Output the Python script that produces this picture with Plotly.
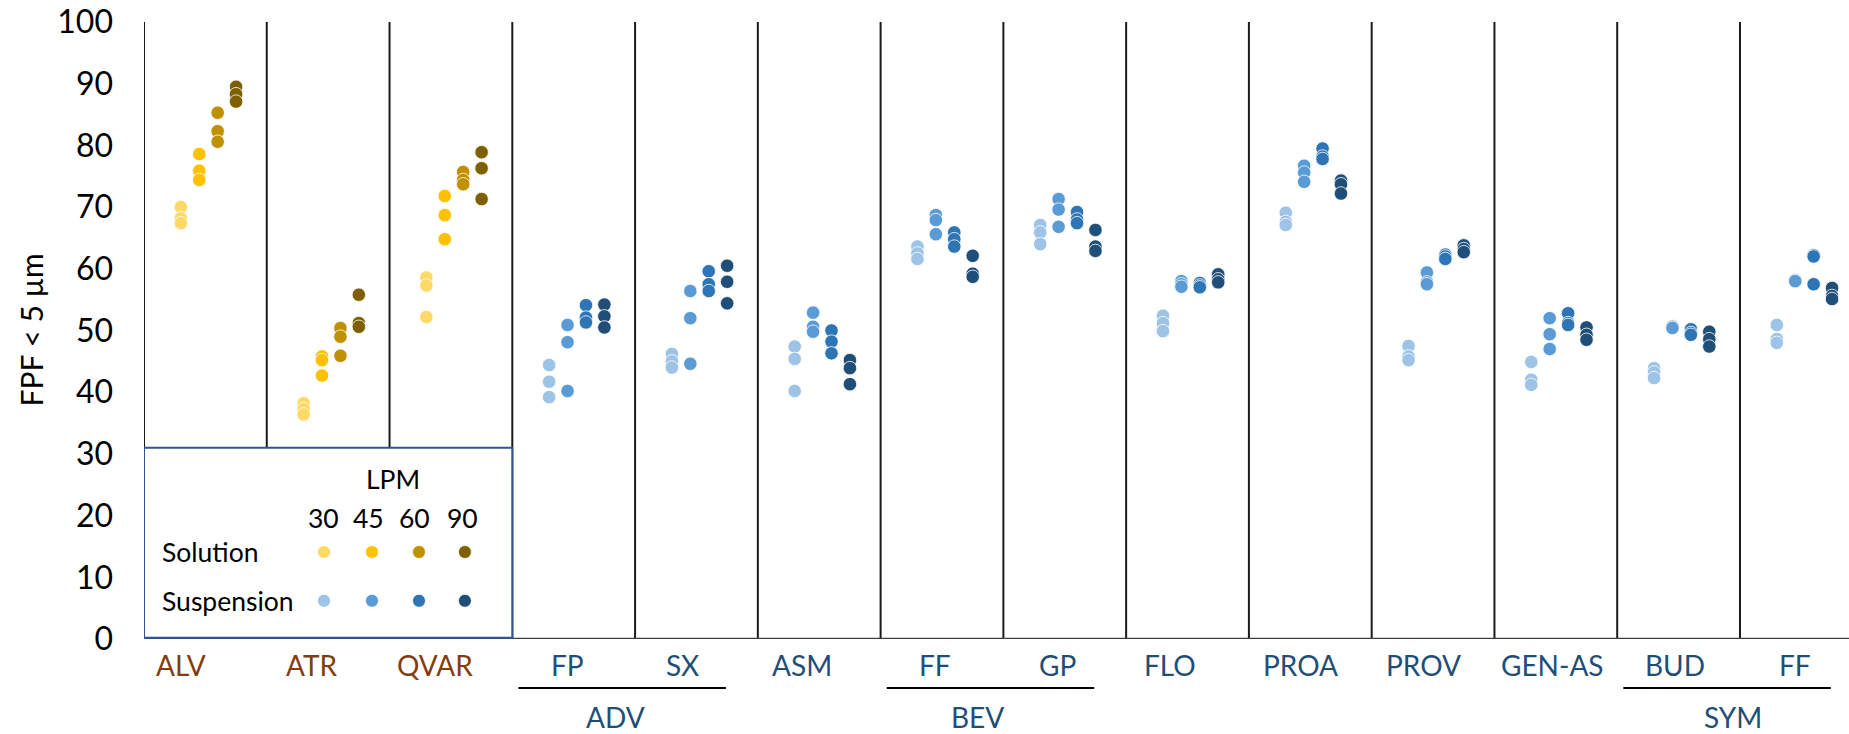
import plotly.graph_objects as go

# ---------------- data ----------------
categories = ["ALV", "ATR", "QVAR", "FP", "SX", "ASM", "FF", "GP", "FLO",
              "PROA", "PROV", "GEN-AS", "BUD", "FF"]
formulation = ["Solution"] * 3 + ["Suspension"] * 11
lpm = [30, 45, 60, 90]

fpf_30 = [
    [70.0, 68.2, 67.4], [38.2, 37.3, 36.4], [58.6, 57.3, 52.2], [44.4, 41.7, 39.2],
    [46.2, 45.0, 44.0], [47.4, 45.4, 40.2], [63.6, 62.5, 61.6], [67.1, 65.9, 64.0],
    [52.4, 51.2, 49.9], [69.1, 67.6, 67.1], [47.5, 45.8, 45.2], [44.9, 42.0, 41.2],
    [43.9, 43.2, 42.3], [50.9, 48.6, 48.0],
]
fpf_45 = [
    [78.6, 75.9, 74.4], [45.8, 45.2, 42.7], [71.8, 68.7, 64.8], [50.9, 48.1, 40.2],
    [56.4, 52.0, 44.6], [52.9, 50.6, 49.8], [68.7, 67.9, 65.6], [71.3, 69.6, 66.8],
    [58.0, 57.5, 57.1], [76.7, 75.6, 74.1], [59.4, 57.8, 57.5], [52.0, 49.4, 47.0],
    [50.7, 50.6, 50.4], [58.2, 58.1, 58.0],
]
fpf_60 = [
    [85.3, 82.3, 80.6], [50.4, 49.0, 45.9], [75.7, 74.4, 73.7], [54.1, 52.1, 51.3],
    [59.6, 57.5, 56.4], [50.0, 48.2, 46.3], [65.9, 64.8, 63.6], [69.2, 68.0, 67.4],
    [57.7, 57.3, 57.0], [79.5, 78.2, 77.8], [62.3, 62.0, 61.6], [52.8, 51.2, 50.9],
    [50.2, 49.6, 49.3], [62.2, 62.0, 57.5],
]
fpf_90 = [
    [89.5, 88.3, 87.1], [55.8, 51.2, 50.6], [78.9, 76.3, 71.3], [54.2, 52.3, 50.5],
    [60.5, 57.9, 54.4], [45.2, 43.9, 41.3], [62.1, 59.2, 58.7], [66.3, 63.6, 62.9],
    [59.1, 58.3, 57.8], [74.3, 73.7, 72.2], [63.8, 63.2, 62.7], [50.5, 49.3, 48.5],
    [49.8, 48.6, 47.4], [56.9, 55.6, 55.1],
]
series = [fpf_30, fpf_45, fpf_60, fpf_90]

groups = [("ADV", 3, 4), ("BEV", 6, 7), ("SYM", 12, 13)]
y_ticks = list(range(0, 101, 10))

# ---------------- styling ----------------
colors = {
    "Solution": ["#FFD966", "#FFC000", "#BF9000", "#7F6000"],
    "Suspension": ["#9DC3E6", "#5B9BD5", "#2E75B6", "#1F4E79"],
}
label_color = {"Solution": "#843C0C", "Suspension": "#1F4E79"}
lpm_offset = [0.30, 0.45, 0.60, 0.75]
label_offset = [0.30, 0.37, 0.37, 0.45, 0.39, 0.36, 0.44, 0.44, 0.36, 0.42,
                0.42, 0.47, 0.47, 0.45]
group_label_x = {"ADV": 3.84, "BEV": 6.79, "SYM": 12.94}
FONT = "Lato"
XMAX = 13.888

fig = go.Figure()

for form in ["Solution", "Suspension"]:
    for k, vals in enumerate(series):
        xs, ys = [], []
        for i, reps in enumerate(vals):
            if formulation[i] != form:
                continue
            for v in reps:
                xs.append(i + lpm_offset[k])
                ys.append(v)
        fig.add_trace(go.Scatter(
            x=xs, y=ys, mode="markers", name=f"{form} {lpm[k]}",
            marker=dict(size=13.5, color=colors[form][k],
                        line=dict(color="white", width=0.8)),
            showlegend=False, hoverinfo="y"))

shapes = []
# vertical dividers
for i in range(len(categories)):
    shapes.append(dict(type="line", xref="x", yref="y", x0=i, x1=i, y0=0, y1=100,
                       line=dict(color="#1a1a1a", width=2), layer="below"))
# x axis line
shapes.append(dict(type="line", xref="x", yref="y", x0=0, x1=XMAX, y0=0, y1=0,
                   line=dict(color="#404040", width=2.5)))
# legend box
shapes.append(dict(type="rect", xref="x", yref="y", x0=0, x1=3, y0=0.2, y1=31,
                   line=dict(color="#2F5597", width=2), fillcolor="white"))
# group brackets
for name, a, b in groups:
    shapes.append(dict(type="line", xref="x", yref="paper", x0=a + 0.05, x1=a + 1.74,
                       y0=-0.0794, y1=-0.0794, line=dict(color="black", width=2)))

annotations = []
# legend contents
leg_num_x = [1.466, 1.825, 2.207, 2.598]
leg_dot_x = [1.466, 1.857, 2.240, 2.614]
leg_rows = [("Solution", 14.1), ("Suspension", 6.2)]
LEGFONT = dict(family=FONT, size=26.5, color="black")
annotations.append(dict(x=2.03, y=25.9, xref="x", yref="y", text="LPM", showarrow=False,
                        font=LEGFONT))
for j, n in enumerate(lpm):
    annotations.append(dict(x=leg_num_x[j], y=19.6, xref="x", yref="y", text=str(n),
                            showarrow=False, font=LEGFONT))
for form, yy in leg_rows:
    annotations.append(dict(x=0.13, y=yy, xref="x", yref="y", text=form, xanchor="left",
                            showarrow=False, font=LEGFONT))
    for j in range(4):
        shapes.append(dict(type="circle", xref="x", yref="y", xsizemode="pixel",
                           ysizemode="pixel", xanchor=leg_dot_x[j], yanchor=yy,
                           x0=-6.5, x1=6.5, y0=-6.5, y1=6.5,
                           fillcolor=colors[form][j], line=dict(color="white", width=0.8)))

# category labels
for i, c in enumerate(categories):
    annotations.append(dict(x=i + label_offset[i], y=0, xref="x", yref="paper",
                            xanchor="center", yanchor="middle", yshift=-26, text=c,
                            showarrow=False,
                            font=dict(family=FONT, size=28, color=label_color[formulation[i]])))
# group labels
for name, a, b in groups:
    annotations.append(dict(x=group_label_x[name], y=0, xref="x", yref="paper",
                            xanchor="center", yanchor="middle", yshift=-78, text=name,
                            showarrow=False,
                            font=dict(family=FONT, size=28, color="#1F4E79")))
# y-axis title
annotations.append(dict(x=0, y=0.5, xref="paper", yref="paper", xshift=-114,
                        xanchor="center", yanchor="middle",
                        text="FPF < 5 µm", textangle=-90, showarrow=False,
                        font=dict(family=FONT, size=30, color="black")))

fig.update_layout(
    width=1849, height=734,
    margin=dict(l=144, r=0, t=22, b=95),
    paper_bgcolor="white", plot_bgcolor="white",
    xaxis=dict(range=[0, XMAX], showticklabels=False, showgrid=False,
               zeroline=False, showline=False, fixedrange=True),
    yaxis=dict(range=[0, 100], tickvals=y_ticks, showgrid=False, zeroline=False,
               showline=False, ticks="", ticklabelstandoff=30,
               tickfont=dict(family=FONT, size=32, color="black")),
    shapes=shapes, annotations=annotations,
    font=dict(family=FONT),
)

fig.write_html("out.html", config={"displayModeBar": False},
               post_script="document.body.style.margin='0';document.body.style.overflow='hidden';")
